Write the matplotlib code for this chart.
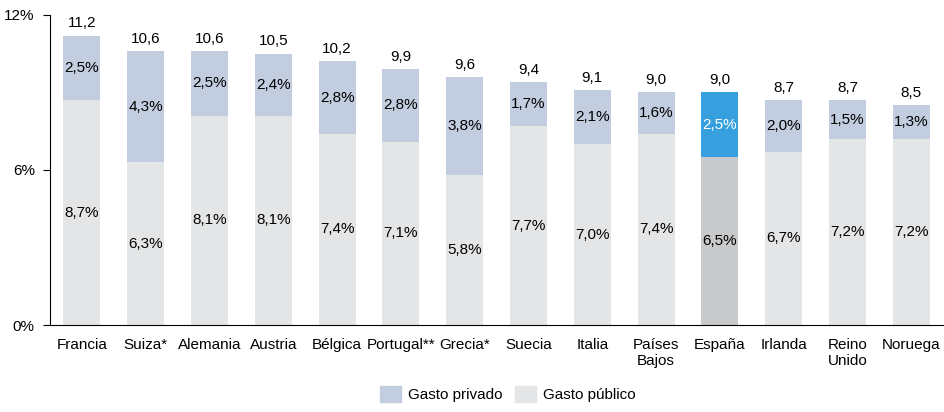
import numpy as np
import matplotlib.pyplot as plt
from matplotlib.patches import Patch

plt.rcParams['font.family'] = ['Liberation Sans', 'DejaVu Sans']

paises = ['Francia', 'Suiza*', 'Alemania', 'Austria', 'Bélgica', 'Portugal**',
          'Grecia*', 'Suecia', 'Italia', 'Países\nBajos', 'España', 'Irlanda',
          'Reino\nUnido', 'Noruega']
publico = [8.7, 6.3, 8.1, 8.1, 7.4, 7.1, 5.8, 7.7, 7.0, 7.4, 6.5, 6.7, 7.2, 7.2]
privado = [2.5, 4.3, 2.5, 2.4, 2.8, 2.8, 3.8, 1.7, 2.1, 1.6, 2.5, 2.0, 1.5, 1.3]
total = [11.2, 10.6, 10.6, 10.5, 10.2, 9.9, 9.6, 9.4, 9.1, 9.0, 9.0, 8.7, 8.7, 8.5]

c_pub = '#e4e5e7'
c_priv = '#c3cde0'
c_pub_es = '#c8c9cb'
c_priv_es = '#36a0de'

def fmt(v):
    return ('%.1f' % v).replace('.', ',')

fs = 11

fig = plt.figure(figsize=(9.45, 4.12), dpi=100)
ax = fig.add_axes([0.053, 0.211, 0.945, 0.753])

x = np.arange(len(paises))
cols_pub = [c_pub_es if p == 'España' else c_pub for p in paises]
cols_priv = [c_priv_es if p == 'España' else c_priv for p in paises]
ax.bar(x, publico, width=0.58, color=cols_pub)
ax.bar(x, privado, width=0.58, bottom=publico, color=cols_priv)

for i in range(len(paises)):
    ax.text(x[i], publico[i] / 2, fmt(publico[i]) + '%', ha='center', va='center', fontsize=fs)
    tc = 'white' if paises[i] == 'España' else 'black'
    ax.text(x[i], publico[i] + privado[i] / 2, fmt(privado[i]) + '%', ha='center', va='center',
            fontsize=fs, color=tc)
    ax.text(x[i], total[i] + 0.2, fmt(total[i]), ha='center', va='bottom', fontsize=fs)

ax.set_xlim(-0.5, len(paises) - 0.5)
ax.set_ylim(0, 12)
ax.set_yticks([0, 6, 12])
ax.set_yticklabels(['0%', '6%', '12%'], fontsize=fs)
ax.set_xticks(x)
ax.set_xticklabels(paises, fontsize=fs, va='top')
ax.tick_params(axis='x', length=0, pad=9)
ax.tick_params(axis='y', length=5, pad=6)
ax.spines['top'].set_visible(False)
ax.spines['right'].set_visible(False)

handles = [Patch(color=c_priv, label='Gasto privado'), Patch(color=c_pub, label='Gasto público')]
fig.legend(handles=handles, loc='lower center', bbox_to_anchor=(0.537, -0.01), ncol=2,
           frameon=False, fontsize=fs, handlelength=1.4, handleheight=1.2,
           handletextpad=0.45, columnspacing=0.8)

fig.savefig('out.png', dpi=100)
